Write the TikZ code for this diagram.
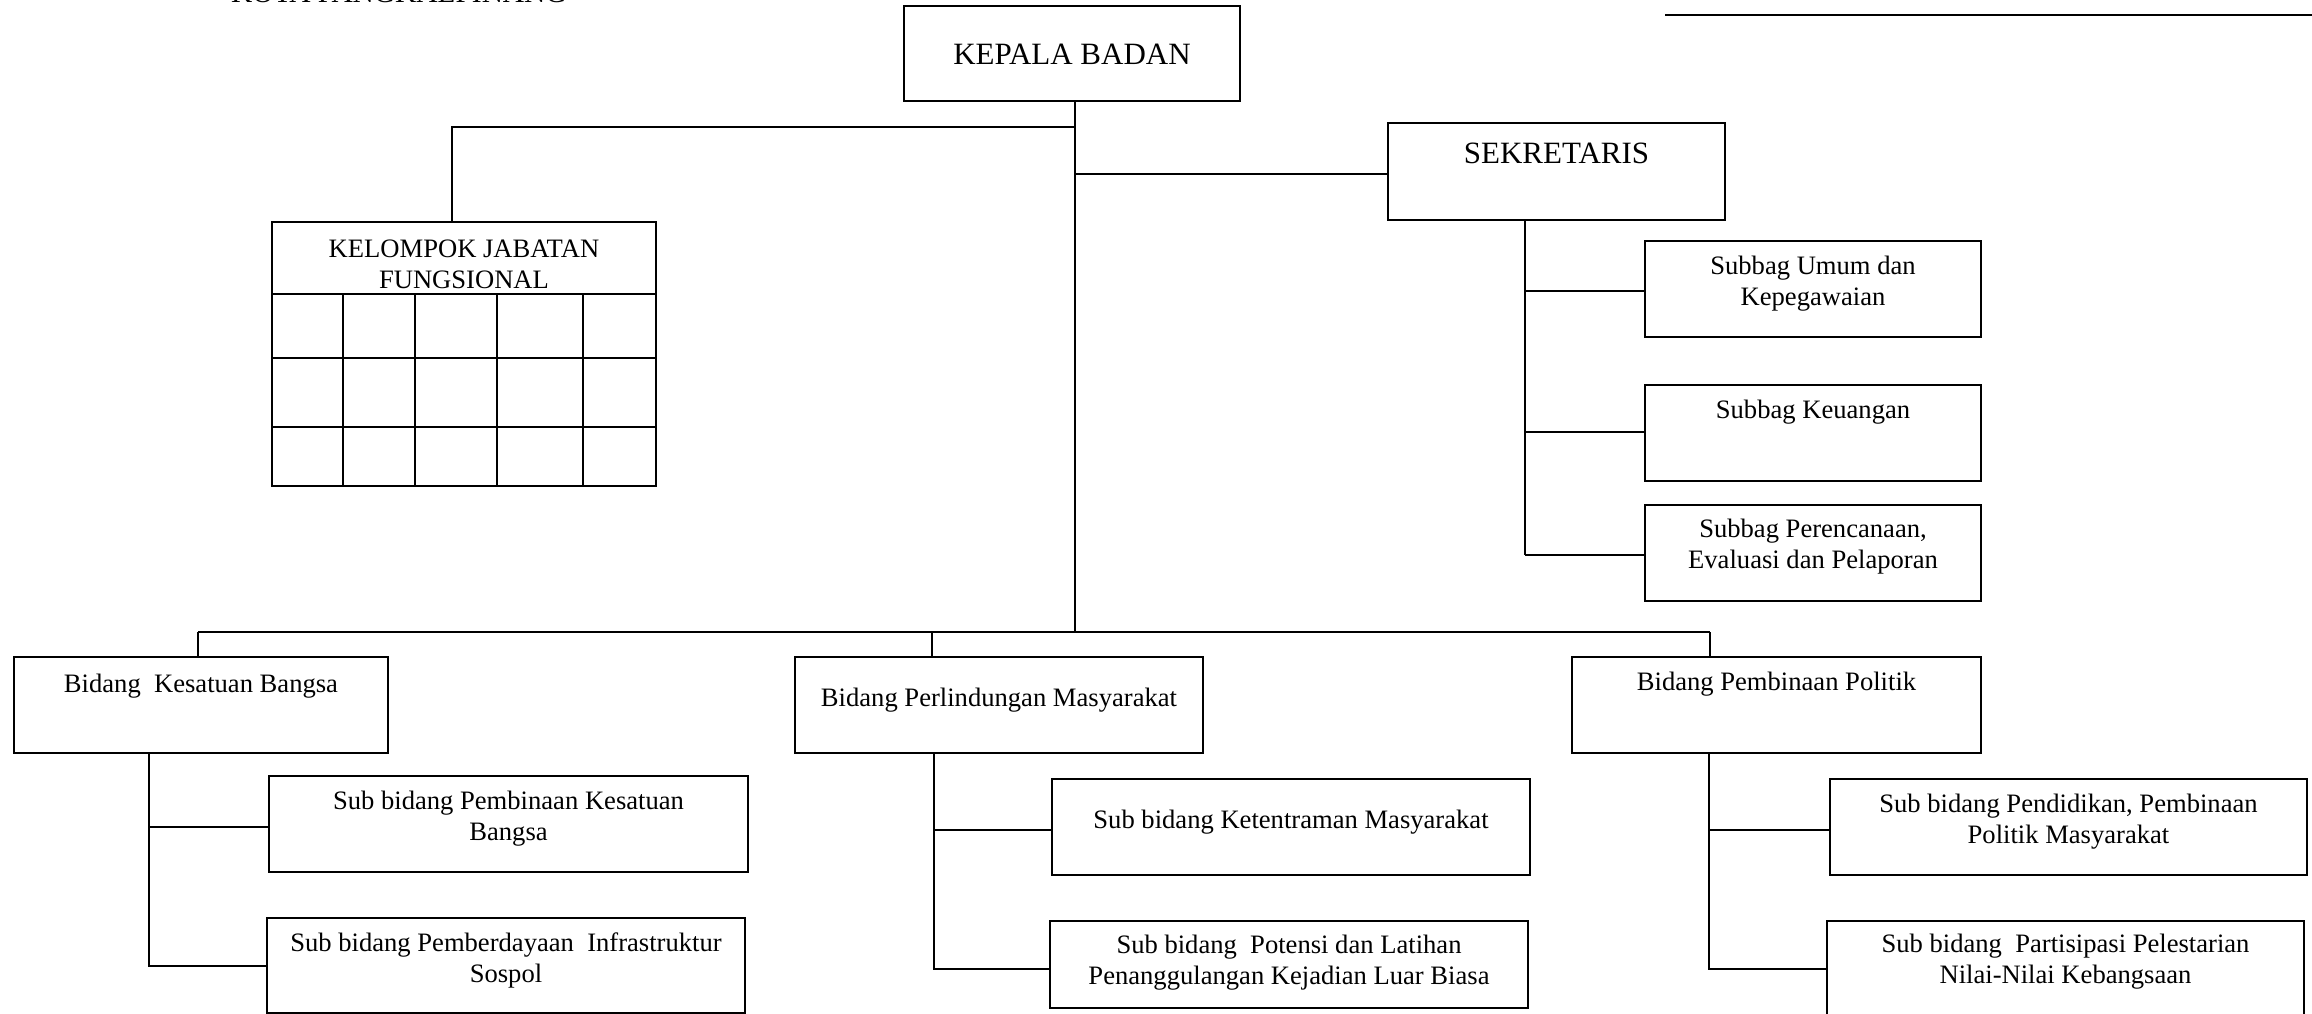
\documentclass[tikz,border=0pt]{standalone}
\usepackage{fontspec}
\setmainfont{Liberation Serif}
\newcommand\smallfs{\fontsize{26.6}{31}\selectfont}
\newcommand\bigfs{\fontsize{31}{36}\selectfont}
\tikzset{
  box/.style={draw, line width=2pt, rectangle, inner sep=0pt},
  txt/.style={inner sep=0pt, align=center, font=\smallfs},
  bigtxt/.style={inner sep=0pt, align=center, font=\bigfs},
  conn/.style={line width=2pt}
}
\begin{document}
\begin{tikzpicture}[x=1pt, y=-1pt]
\useasboundingbox (0,0) rectangle (2312,1014);

% partly visible heading and rule
\node[anchor=base west, inner sep=0pt, font=\fontsize{29.4}{34}\selectfont] (kota) at (231,3) {KOTA PANGKALPINANG};
\coordinate (r1) at (1665,15);
\coordinate (r2) at (2312,15);
\draw[conn] (r1) -- (r2);

% boxes
\node[box, minimum width=336, minimum height=95] (kepala) at (1072,53.5) {};
\node[bigtxt] at (1072,54) {KEPALA BADAN};

\node[box, minimum width=337, minimum height=97] (sek) at (1556.5,171.5) {};
\node[bigtxt] at (1556.5,153.5) {SEKRETARIS};

\node[box, minimum width=384, minimum height=264] (kjf) at (464,354) {};
\node[txt] at (464,264) {KELOMPOK JABATAN\\FUNGSIONAL};
\draw[conn] (272,294) -- (656,294);
\draw[conn] (272,358) -- (656,358);
\draw[conn] (272,427) -- (656,427);
\foreach \xx in {343,415,497,583} \draw[conn] (\xx,294) -- (\xx,486);

\node[box, minimum width=336, minimum height=96] (umum) at (1813,289) {};
\node[txt] at (1813,283.5) {Subbag Umum dan\\Kepegawaian};
\node[box, minimum width=336, minimum height=96] (keu) at (1813,433) {};
\node[txt] at (1813,412) {Subbag Keuangan};
\node[box, minimum width=336, minimum height=96] (pren) at (1813,553) {};
\node[txt] at (1813,547) {Subbag Perencanaan,\\Evaluasi dan Pelaporan};

\node[box, minimum width=374, minimum height=96] (bks) at (201,705) {};
\node[txt] at (201,686) {Bidang\ \ Kesatuan Bangsa};
\node[box, minimum width=408, minimum height=96] (bpm) at (999,705) {};
\node[txt] at (999,700) {Bidang Perlindungan Masyarakat};
\node[box, minimum width=409, minimum height=96] (bpp) at (1776.5,705) {};
\node[txt] at (1776.5,684) {Bidang Pembinaan Politik};

\node[box, minimum width=479, minimum height=96] (s11) at (508.5,824) {};
\node[txt] at (508.5,819) {Sub bidang Pembinaan Kesatuan\\Bangsa};
\node[box, minimum width=478, minimum height=95] (s12) at (506,965.5) {};
\node[txt] at (506,960) {Sub bidang Pemberdayaan\ \ Infrastruktur\\Sospol};

\node[box, minimum width=478, minimum height=96] (s21) at (1291,827) {};
\node[txt] at (1291,822) {Sub bidang Ketentraman Masyarakat};
\node[box, minimum width=478, minimum height=87] (s22) at (1289,964.5) {};
\node[txt] at (1289,963) {Sub bidang\ \ Potensi dan Latihan\\Penanggulangan Kejadian Luar Biasa};

\node[box, minimum width=477, minimum height=96] (s31) at (2068.5,827) {};
\node[txt] at (2068.5,822) {Sub bidang Pendidikan, Pembinaan\\Politik Masyarakat};
\node[box, minimum width=477, minimum height=97] (s32) at (2065.5,969.5) {};
\node[txt] at (2065.5,962) {Sub bidang\ \ Partisipasi Pelestarian\\Nilai-Nilai Kebangsaan};

% junction coordinates
\coordinate (j1) at (1075,127);
\coordinate (j2) at (1075,174);
\coordinate (bus) at (1075,632);
\coordinate (kl) at (452,127);
\coordinate (sx) at (1525,0);
\coordinate (b1) at (198,632);
\coordinate (b2) at (932,632);
\coordinate (b3) at (1710,632);
\coordinate (c1) at (149,0);
\coordinate (c2) at (934,0);
\coordinate (c3) at (1709,0);

% connectors
\draw[conn] (kepala.south -| bus) -- (bus);
\draw[conn] (j1) -- (kl) -- (kl |- kjf.north);
\draw[conn] (j2) -- (j2 -| sek.west);

\draw[conn] (sek.south -| sx) -- ([yshift=-2pt]sx |- pren.west);
\draw[conn] ([yshift=-2pt]sx |- umum.west) -- ([yshift=-2pt]umum.west);
\draw[conn] ([yshift=1pt]sx |- keu.west) -- ([yshift=1pt]keu.west);
\draw[conn] ([yshift=-2pt]sx |- pren.west) -- ([yshift=-2pt]pren.west);

\draw[conn] (b1) -- (b3);
\draw[conn] (b1) -- (b1 |- bks.north);
\draw[conn] (b2) -- (b2 |- bpm.north);
\draw[conn] (b3) -- (b3 |- bpp.north);

\draw[conn] (bks.south -| c1) -- (c1 |- s12.west) -- (s12.west);
\draw[conn] ([yshift=-3pt]c1 |- s11.west) -- ([yshift=-3pt]s11.west);

\draw[conn] (bpm.south -| c2) -- ([yshift=-4.5pt]c2 |- s22.west) -- ([yshift=-4.5pt]s22.west);
\draw[conn] ([yshift=-3pt]c2 |- s21.west) -- ([yshift=-3pt]s21.west);

\draw[conn] (bpp.south -| c3) -- ([yshift=0.5pt]c3 |- s32.west) -- ([yshift=0.5pt]s32.west);
\draw[conn] ([yshift=-3pt]c3 |- s31.west) -- ([yshift=-3pt]s31.west);
\end{tikzpicture}
\end{document}
